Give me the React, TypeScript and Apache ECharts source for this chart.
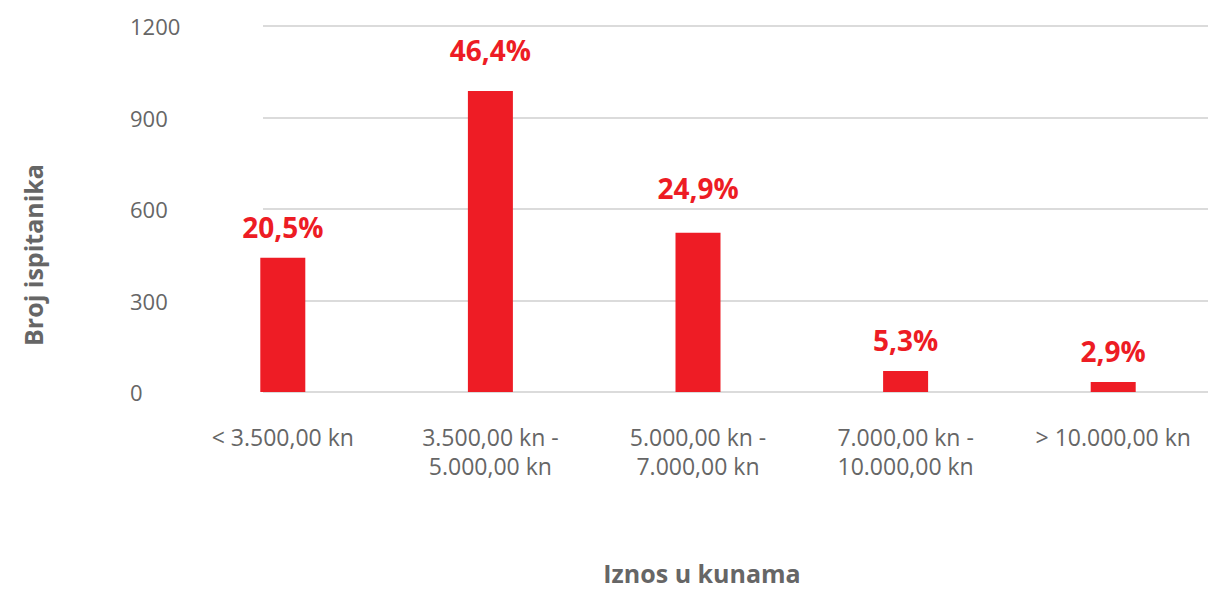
import React, { useEffect, useRef } from "react";
import * as echarts from "echarts";

const categories = [
  "< 3.500,00 kn",
  "3.500,00 kn -\n5.000,00 kn",
  "5.000,00 kn -\n7.000,00 kn",
  "7.000,00 kn -\n10.000,00 kn",
  "> 10.000,00 kn",
];
const counts = [440, 987, 522, 69, 33];
const percentLabels = ["20,5%", "46,4%", "24,9%", "5,3%", "2,9%"];
const labelLift = [0, -10, -14, 0, 0];
const yTicks = { min: 0, max: 1200, interval: 300 };

const RED = "#EE1C25";
const GRAY = "#666666";
const FONT = "'Open Sans', 'Noto Sans', sans-serif";

export default function App() {
  const ref = useRef<HTMLDivElement>(null);
  useEffect(() => {
    document.body.style.margin = "0";
    document.body.style.overflow = "hidden";
    if (!ref.current) return;
    const chart = echarts.init(ref.current, null, { renderer: "svg" });
    chart.setOption({
      animation: false,
      backgroundColor: "#ffffff",
      grid: [
        { left: 263, right: 12, top: 26, bottom: 197 },
        { left: 179, right: 3, top: 26, bottom: 197 },
      ],
      xAxis: [
        { type: "category", gridIndex: 0, data: categories, show: false },
        {
          type: "category",
          gridIndex: 1,
          data: categories,
          axisLine: { show: false },
          axisTick: { show: false },
          axisLabel: {
            color: GRAY,
            fontFamily: FONT,
            fontSize: 23,
            lineHeight: 29,
            margin: 30,
            interval: 0,
          },
        },
      ],
      yAxis: [
        {
          type: "value",
          gridIndex: 0,
          min: yTicks.min,
          max: yTicks.max,
          interval: yTicks.interval,
          axisLine: { show: false },
          axisTick: { show: false },
          splitLine: { lineStyle: { color: "#cfcfcf", width: 1.5 } },
          axisLabel: {
            color: GRAY,
            fontFamily: FONT,
            fontSize: 22,
            align: "left",
            margin: 133,
            formatter: (v: number) => String(v),
          },
        },
        {
          type: "value",
          gridIndex: 1,
          min: yTicks.min,
          max: yTicks.max,
          interval: yTicks.interval,
          show: false,
          splitLine: { show: false },
        },
      ],
      series: [
        {
          type: "bar",
          xAxisIndex: 1,
          yAxisIndex: 1,
          barWidth: 45,
          itemStyle: { color: RED },
          data: counts.map((v, i) => ({
            value: v,
            label: {
              show: true,
              position: "top",
              distance: 17,
              offset: [0, labelLift[i]],
              formatter: percentLabels[i],
              color: "#ED1C24",
              fontFamily: FONT,
              fontWeight: "bold",
              fontSize: 28,
            },
          })),
        },
      ],
      graphic: [
        {
          type: "text",
          x: 702,
          y: 573,
          style: {
            text: "Iznos u kunama",
            fill: GRAY,
            font: `bold 25px ${FONT}`,
            align: "center",
            verticalAlign: "middle",
          },
        },
        {
          type: "text",
          x: 33,
          y: 255,
          rotation: Math.PI / 2,
          style: {
            text: "Broj ispitanika",
            fill: GRAY,
            font: `bold 25px ${FONT}`,
            align: "center",
            verticalAlign: "middle",
          },
        },
      ],
    });
    return () => chart.dispose();
  }, []);
  return <div ref={ref} style={{ width: 1220, height: 589 }} />;
}
